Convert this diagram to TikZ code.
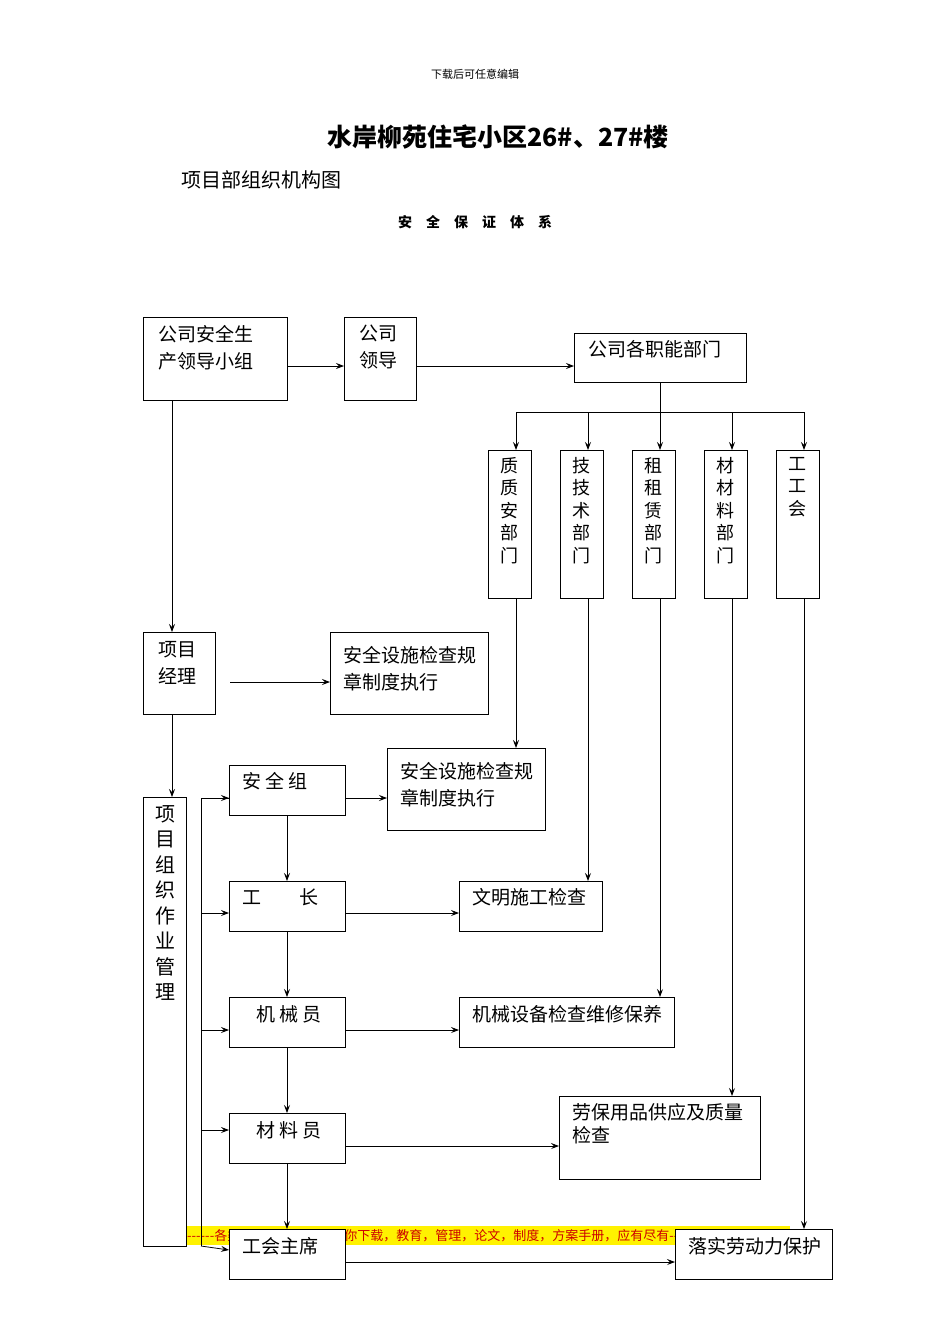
\documentclass[tikz,border=0pt]{standalone}
\usepackage{fontspec}
\usetikzlibrary{arrows.meta}
\newfontfamily\cjk{Noto Sans CJK SC}
\begin{document}
\begin{tikzpicture}[x=1pt,y=-1pt,
  box/.style={draw,line width=0.9pt,fill=white},
  txt/.style={font=\cjk\fontsize{19}{27}\selectfont,align=left,anchor=north west,inner sep=0pt},
  vt/.style={font=\cjk\fontsize{18}{22.5}\selectfont,align=center,anchor=north,inner sep=0pt},
  ar/.style={-{Stealth[length=8pt,width=6pt,inset=3pt]},line width=0.8pt},
  ln/.style={line width=0.8pt}]
\useasboundingbox (0,0) rectangle (950,1344);
\node[font=\cjk\fontsize{11}{12}\selectfont] (h0) at (475,74) {下载后可任意编辑};
\node[font=\cjk\bfseries\fontsize{25}{28}\selectfont] (h1) at (498,137) {水岸柳苑住宅小区26\#、27\#楼};
\node[font=\cjk\fontsize{20}{22}\selectfont,anchor=west] (h2) at (178,180) {项目部组织机构图};
\node[font=\cjk\bfseries\fontsize{14}{16}\selectfont] (h3) at (475,222) {安\quad 全\quad 保\quad 证\quad 体\quad 系};
% yellow note
\fill[yellow] (186,1226) rectangle (790,1245);
\node[font=\cjk\fontsize{13}{14}\selectfont,text=red!80!black,anchor=west,inner sep=0pt] (note) at (187,1236) {------各类专业好文档，值得你下载，教育，管理，论文，制度，方案手册，应有尽有------};
% top boxes
\draw[box] (143,317) rectangle (287,400);
\node[txt] (a) at (158,325) {公司安全生\\产领导小组};
\draw[box] (344,317) rectangle (416,400);
\node[txt] (b) at (359,325) {公司\\领导};
\draw[box] (574,333) rectangle (746,382);
\node[txt] (c) at (588,340) {公司各职能部门};
\draw[ar] (287,366) -- (344,366);
\draw[ar] (416,366) -- (574,366);
% department columns
\draw[ln] (660,382) -- (660,412);
\draw[ln] (516,412) -- (804,412);
\foreach \x/\t in {488/{质\\质\\安\\部\\门},560/{技\\技\\术\\部\\门},632/{租\\租\\赁\\部\\门},704/{材\\材\\料\\部\\门},776/{工\\工\\会}}{
  \draw[box] (\x,450) rectangle ({\x+43},598);
  \node[vt] at ({\x+21},457) {\t};
}
\foreach \x in {516,588,660,732,804}{\draw[ar] (\x,412) -- (\x,450);}
% project manager
\draw[box] (143,632) rectangle (215,714);
\node[txt] (pm) at (158,641) {项目\\经理};
\draw[box] (330,632) rectangle (488,714);
\node[txt] (s1) at (343,646) {安全设施检查规\\章制度执行};
\draw[ar] (230,682) -- (330,682);
\draw[ar] (172,400) -- (172,632);
\draw[ar] (172,714) -- (172,797);
% tall box
\draw[box] (143,797) rectangle (186,1246);
\node[vt,font=\cjk\fontsize{20}{25.5}\selectfont] (tall) at (165,805) {项\\目\\组\\织\\作\\业\\管\\理};
% left chain
\draw[box] (229,765) rectangle (345,815);
\node[txt] (g1) at (242,772) {安\ 全\ 组};
\draw[box] (229,881) rectangle (345,931);
\node[txt] (g2) at (242,888) {工\qquad 长};
\draw[box] (229,997) rectangle (345,1047);
\node[txt] (g3) at (256,1005) {机\ 械\ 员};
\draw[box] (229,1113) rectangle (345,1163);
\node[txt] (g4) at (256,1121) {材\ 料\ 员};
\draw[box] (229,1229) rectangle (345,1279);
\node[txt] (g5) at (242,1237) {工会主席};
\foreach \y in {815,931,1047,1163}{\draw[ar] (287,\y) -- (287,\y+66);}
% right boxes
\draw[box] (387,748) rectangle (545,830);
\node[txt] (r1) at (400,762) {安全设施检查规\\章制度执行};
\draw[box] (459,881) rectangle (602,931);
\node[txt] (r2) at (472,888) {文明施工检查};
\draw[box] (459,997) rectangle (674,1047);
\node[txt] (r3) at (472,1005) {机械设备检查维修保养};
\draw[box] (559,1096) rectangle (760,1179);
\node[txt,font=\cjk\fontsize{19}{23}\selectfont] (r4) at (572,1103) {劳保用品供应及质量\\检查};
\draw[box] (675,1229) rectangle (832,1279);
\node[txt] (r5) at (688,1237) {落实劳动力保护};
\draw[ar] (345,798) -- (387,798);
\draw[ar] (345,913) -- (459,913);
\draw[ar] (345,1030) -- (459,1030);
\draw[ar] (345,1146) -- (559,1146);
\draw[ar] (345,1262) -- (675,1262);
% department drops
\draw[ar] (516,598) -- (516,748);
\draw[ar] (588,598) -- (588,881);
\draw[ar] (660,598) -- (660,997);
\draw[ar] (732,598) -- (732,1096);
\draw[ar] (804,598) -- (804,1229);
% left bus
\draw[ln] (229,798) -- (201,798) -- (201,1246);
\foreach \y in {798,913,1030,1130}{\draw[ar] (201,\y) -- (229,\y);}
\draw[ar] (201,1246) -- (229,1250);
\end{tikzpicture}
\end{document}
